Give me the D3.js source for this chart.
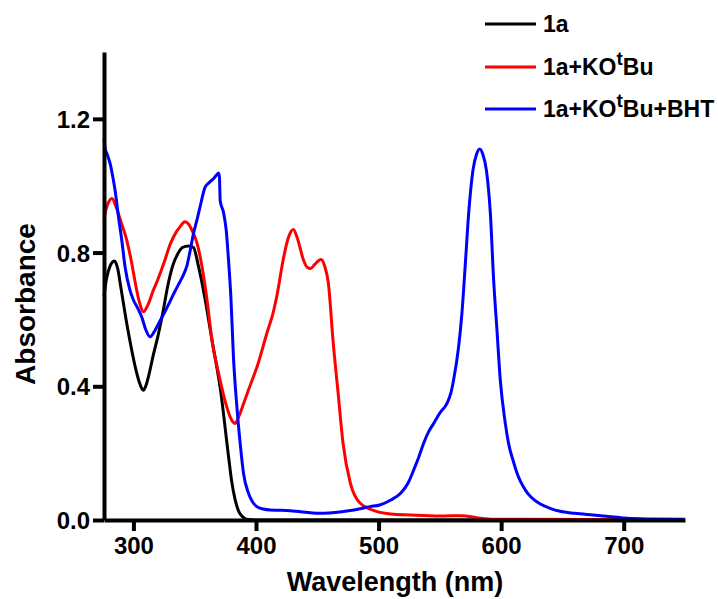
<!DOCTYPE html>
<html>
<head>
<meta charset="utf-8">
<script src="https://cdn.jsdelivr.net/npm/d3@7"></script>
<style>
  body { margin: 0; background: #fff; }
  svg { font-family: "Liberation Sans", Arial, sans-serif; font-weight: bold; }
</style>
</head>
<body>
<div id="chart"></div>
<script>
// spectra: [wavelength nm, absorbance]
const black1a = [
  [276, 0.67], [278, 0.72], [281, 0.76], [284.5, 0.775], [287, 0.755], [290, 0.69],
  [294, 0.60], [298, 0.52], [302, 0.45], [305, 0.41], [307, 0.392], [308.2, 0.388],
  [310, 0.40], [313, 0.44], [316, 0.49], [320, 0.55], [324, 0.62], [328, 0.70],
  [332, 0.76], [336, 0.795], [340, 0.815], [345, 0.82], [349, 0.815], [353, 0.76],
  [358, 0.67], [364, 0.54], [371, 0.39], [377.6, 0.19], [380, 0.12], [383, 0.06],
  [386, 0.025], [389, 0.01], [392, 0.002], [400, 0], [750, 0]
];
const redKOtBu = [
  [276, 0.905], [279, 0.945], [282.5, 0.962], [286, 0.935], [290, 0.89], [294, 0.845],
  [298, 0.78], [302, 0.70], [305, 0.65], [308.2, 0.623], [312, 0.645], [316, 0.685],
  [320, 0.72], [325, 0.77], [330, 0.825], [335, 0.862], [338, 0.877], [342, 0.892],
  [345, 0.885], [348, 0.865], [352, 0.827], [356, 0.757], [360, 0.66], [364, 0.54],
  [369.4, 0.44], [376, 0.34], [380, 0.30], [383, 0.289], [386, 0.31], [391, 0.36],
  [396, 0.41], [401, 0.46], [409, 0.56], [414, 0.62], [417, 0.67], [422, 0.775],
  [426, 0.84], [430.5, 0.869], [434, 0.84], [438.8, 0.777], [442, 0.755], [444.5, 0.752],
  [448, 0.765], [453, 0.779], [456, 0.76], [459, 0.71], [463, 0.53], [467, 0.38],
  [471, 0.23], [477, 0.11], [485, 0.05], [499, 0.025], [510, 0.018], [526, 0.015],
  [550, 0.012], [568, 0.013], [580, 0.007], [594, 0.002], [620, 0.002], [750, 0]
];
const blueBHT = [
  [276, 1.14], [277, 1.11], [278.5, 1.095], [281, 1.066], [283, 1.03], [285, 0.987],
  [287.8, 0.907], [290.5, 0.837], [293.2, 0.757], [297, 0.69], [300, 0.658], [304, 0.63],
  [307, 0.605], [310, 0.57], [313.6, 0.548], [318, 0.57], [322, 0.598], [326, 0.625],
  [330, 0.655], [334, 0.685], [338, 0.713], [341, 0.735], [343.6, 0.76], [346, 0.80],
  [349, 0.857], [352, 0.90], [354.4, 0.937], [358.5, 0.996], [362, 1.01], [365.3, 1.021],
  [368, 1.033], [369.4, 1.038], [370.2, 1.025], [370.8, 0.955], [373.5, 0.92], [375.7, 0.867],
  [377.6, 0.777], [379.5, 0.668], [381.6, 0.488], [384.4, 0.339], [387.1, 0.229], [389.8, 0.14],
  [393.9, 0.08], [397, 0.055], [400.7, 0.04], [406, 0.033], [411.6, 0.03], [428, 0.028],
  [452, 0.02], [470, 0.025], [480, 0.03], [493, 0.04], [501, 0.045], [510, 0.06],
  [518, 0.08], [524, 0.11], [528.6, 0.149], [533, 0.19], [536.7, 0.229], [541, 0.265],
  [545, 0.289], [550, 0.32], [555.8, 0.349], [559, 0.38], [561.2, 0.419], [565.3, 0.518],
  [568, 0.618], [570.8, 0.767], [573.5, 0.917], [577, 1.046], [580, 1.095], [582.5, 1.11],
  [585, 1.095], [588, 1.046], [591.2, 0.917], [593.9, 0.717], [596.6, 0.568], [599.3, 0.419],
  [603.4, 0.289], [606, 0.23], [610, 0.175], [614, 0.13], [618, 0.10], [622, 0.078],
  [627, 0.06], [632, 0.048], [640, 0.035], [648, 0.026], [660, 0.02], [675, 0.015],
  [690, 0.01], [703, 0.005], [720, 0.003], [750, 0.002]
];

const seriesNames = ["1a", "1a+KOtBu", "1a+KOtBu+BHT"];
const seriesColors = ["#000000", "#ff0000", "#0000ff"];
const xTicks = [300, 400, 500, 600, 700];
const yTicks = [0.0, 0.4, 0.8, 1.2];

const width = 718, height = 599;
const svg = d3.select("#chart").append("svg")
  .attr("width", width).attr("height", height);

const x = d3.scaleLinear().domain([276, 750]).range([104, 685]);
const y = d3.scaleLinear().domain([0, 1.4]).range([520, 52]);

const line = d3.line()
  .x(d => x(d[0]))
  .y(d => y(d[1]))
  .curve(d3.curveMonotoneX);

// spectra first, axes on top
[black1a, redKOtBu, blueBHT].forEach((s, i) => {
  svg.append("path")
    .datum(s)
    .attr("d", line)
    .attr("fill", "none")
    .attr("stroke", seriesColors[i])
    .attr("stroke-width", 3)
    .attr("stroke-linejoin", "round");
});

// axes
const yAxis = svg.append("g")
  .attr("transform", `translate(${x.range()[0]},0)`)
  .call(d3.axisLeft(y).tickValues(yTicks).tickFormat(d3.format(".1f")).tickSize(11).tickSizeOuter(0).tickPadding(3));
const xAxis = svg.append("g")
  .attr("transform", `translate(0,${y.range()[0]})`)
  .call(d3.axisBottom(x).tickValues(xTicks).tickSize(11).tickSizeOuter(0).tickPadding(5));

[yAxis, xAxis].forEach(g => {
  g.select(".domain").attr("stroke", "#000").attr("stroke-width", 4);
  g.selectAll(".tick line").attr("stroke", "#000").attr("stroke-width", 4);
  g.selectAll(".tick text")
    .attr("fill", "#000")
    .style("font-size", "24px")
    .style("font-weight", "bold")
    .style("font-family", '"Liberation Sans", Arial, sans-serif');
});
yAxis.selectAll(".tick text").attr("dy", "0.36em");
xAxis.selectAll(".tick text").attr("dy", "0.75em");

// axis titles
svg.append("text")
  .attr("x", 395).attr("y", 591)
  .attr("text-anchor", "middle")
  .style("font-size", "27px")
  .text("Wavelength (nm)");

svg.append("text")
  .attr("transform", "translate(35,304) rotate(-90)")
  .attr("text-anchor", "middle")
  .style("font-size", "28px")
  .text("Absorbance");

// legend
const legend = svg.append("g");
const rowY = [24, 67, 109];
seriesNames.forEach((name, i) => {
  legend.append("line")
    .attr("x1", 485).attr("x2", 536)
    .attr("y1", rowY[i]).attr("y2", rowY[i])
    .attr("stroke", seriesColors[i])
    .attr("stroke-width", 3);
  const t = legend.append("text")
    .attr("x", 543).attr("y", rowY[i] + 8)
    .style("font-size", "23px");
  if (name.includes("KOtBu")) {
    const parts = name.split("KOtBu");
    t.append("tspan").text(parts[0] + "KO");
    t.append("tspan").attr("dy", -10).style("font-size", "19px").text("t");
    t.append("tspan").attr("dy", 10).text("Bu" + parts[1]);
  } else {
    t.text(name);
  }
});
</script>
</body>
</html>
